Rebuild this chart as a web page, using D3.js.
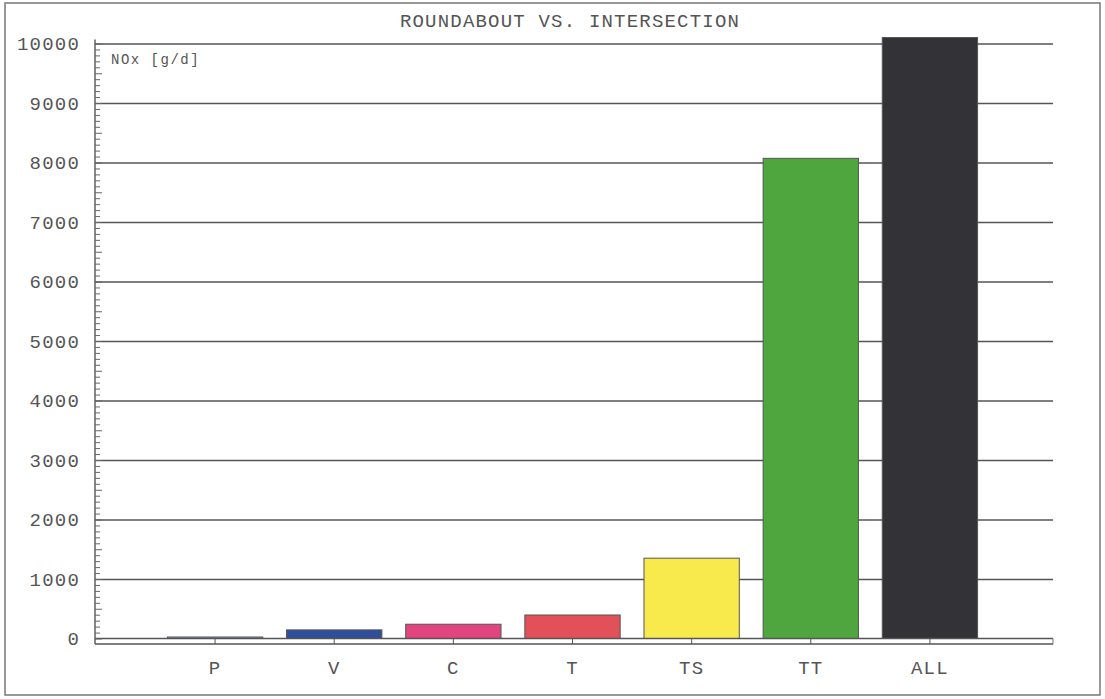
<!DOCTYPE html>
<html>
<head>
<meta charset="utf-8">
<script src="https://cdn.jsdelivr.net/npm/d3@7"></script>
<style>
  html, body { margin: 0; padding: 0; background: #ffffff; }
  svg { display: block; }
  text { font-family: "Liberation Mono", "DejaVu Sans Mono", monospace; fill: #555; }
</style>
</head>
<body>
<svg id="chart" width="1105" height="699"></svg>
<script>
// ---- data ----
const categories = ["P", "V", "C", "T", "TS", "TT", "ALL"];
const values = [25, 145, 240, 395, 1350, 8070, 10100];
const barColors = ["#7096bf", "#2f4f9c", "#e2447f", "#e2505a", "#f8ea4d", "#4fa63f", "#333337"];
const yTicks = [0, 1000, 2000, 3000, 4000, 5000, 6000, 7000, 8000, 9000, 10000];
const title = "ROUNDABOUT VS. INTERSECTION";
const unitLabel = "NOx [g/d]";

(function () {
  const svg = d3.select("#chart");
  const pL = 95, pR = 1053, pT = 43.5, pB = 638.5, axB = 644;

  const y = d3.scaleLinear().domain([0, 10000]).range([pB, pT]);
  const x = d3.scaleBand().domain(categories).range([155.5, 989.5]).paddingInner(0.2).paddingOuter(0.1);

  // outer frame
  svg.append("rect").attr("x", 5).attr("y", 3).attr("width", 1095).attr("height", 692)
    .attr("fill", "none").attr("stroke", "#777").attr("stroke-width", 1.5);

  // title
  svg.append("text").attr("x", 570).attr("y", 27).attr("text-anchor", "middle")
    .style("font-size", "19px").style("letter-spacing", "1.2px").text(title);

  // gridlines
  svg.append("g").attr("transform", `translate(${pL},0)`)
    .call(d3.axisRight(y).tickValues(yTicks.filter(d => d > 0)).tickSize(pR - pL).tickFormat(""))
    .call(g => g.select(".domain").remove())
    .call(g => g.selectAll("line").attr("stroke", "#555").attr("stroke-width", 1.4));

  // bars
  svg.append("g").selectAll("rect").data(categories).join("rect")
    .attr("x", d => x(d))
    .attr("width", x.bandwidth())
    .attr("y", (d, i) => y(values[i]))
    .attr("height", (d, i) => y(0) - y(values[i]))
    .attr("fill", (d, i) => barColors[i])
    .attr("stroke", "#555").attr("stroke-width", 1);

  // zero line box
  svg.append("line").attr("x1", pL).attr("x2", pR).attr("y1", y(0)).attr("y2", y(0))
    .attr("stroke", "#555").attr("stroke-width", 1.4);
  svg.append("line").attr("x1", pR).attr("x2", pR).attr("y1", y(0)).attr("y2", axB)
    .attr("stroke", "#777").attr("stroke-width", 1);

  // x axis
  svg.append("g").attr("transform", `translate(0,${axB})`)
    .call(d3.axisBottom(x).tickSize(-5).tickPadding(17))
    .call(g => g.select(".domain").attr("d", `M${pL},0H${pR}`).attr("stroke", "#555").attr("stroke-width", 1.4))
    .call(g => g.selectAll("line").attr("stroke", "#555"))
    .call(g => g.selectAll("text").style("font-size", "19px").style("letter-spacing", "1.2px")
      .attr("fill", "#555").style("font-family", "Liberation Mono, monospace"));

  // y minor ticks
  svg.append("g").attr("transform", `translate(${pL},0)`)
    .call(d3.axisRight(y).tickValues(d3.range(0, 10001, 100)).tickSize(5).tickFormat(""))
    .call(g => g.select(".domain").attr("d", `M0,${pT - 4}V${axB}`).attr("stroke", "#555").attr("stroke-width", 1.4))
    .call(g => g.selectAll(".tick line").attr("stroke", "#666").attr("x2", d => d % 500 === 0 ? 7 : 5));

  // y labels
  svg.append("g").attr("transform", `translate(${pL},0)`)
    .call(d3.axisLeft(y).tickValues(yTicks).tickSize(0).tickPadding(15).tickFormat(d3.format("d")))
    .call(g => g.select(".domain").remove())
    .call(g => g.selectAll("text").style("font-size", "19px").style("letter-spacing", "1.2px")
      .attr("fill", "#555").style("font-family", "Liberation Mono, monospace"));

  // unit label
  svg.append("text").attr("x", 111).attr("y", 64)
    .style("font-size", "14px").style("letter-spacing", "1.5px").text(unitLabel);
})();
</script>
</body>
</html>
